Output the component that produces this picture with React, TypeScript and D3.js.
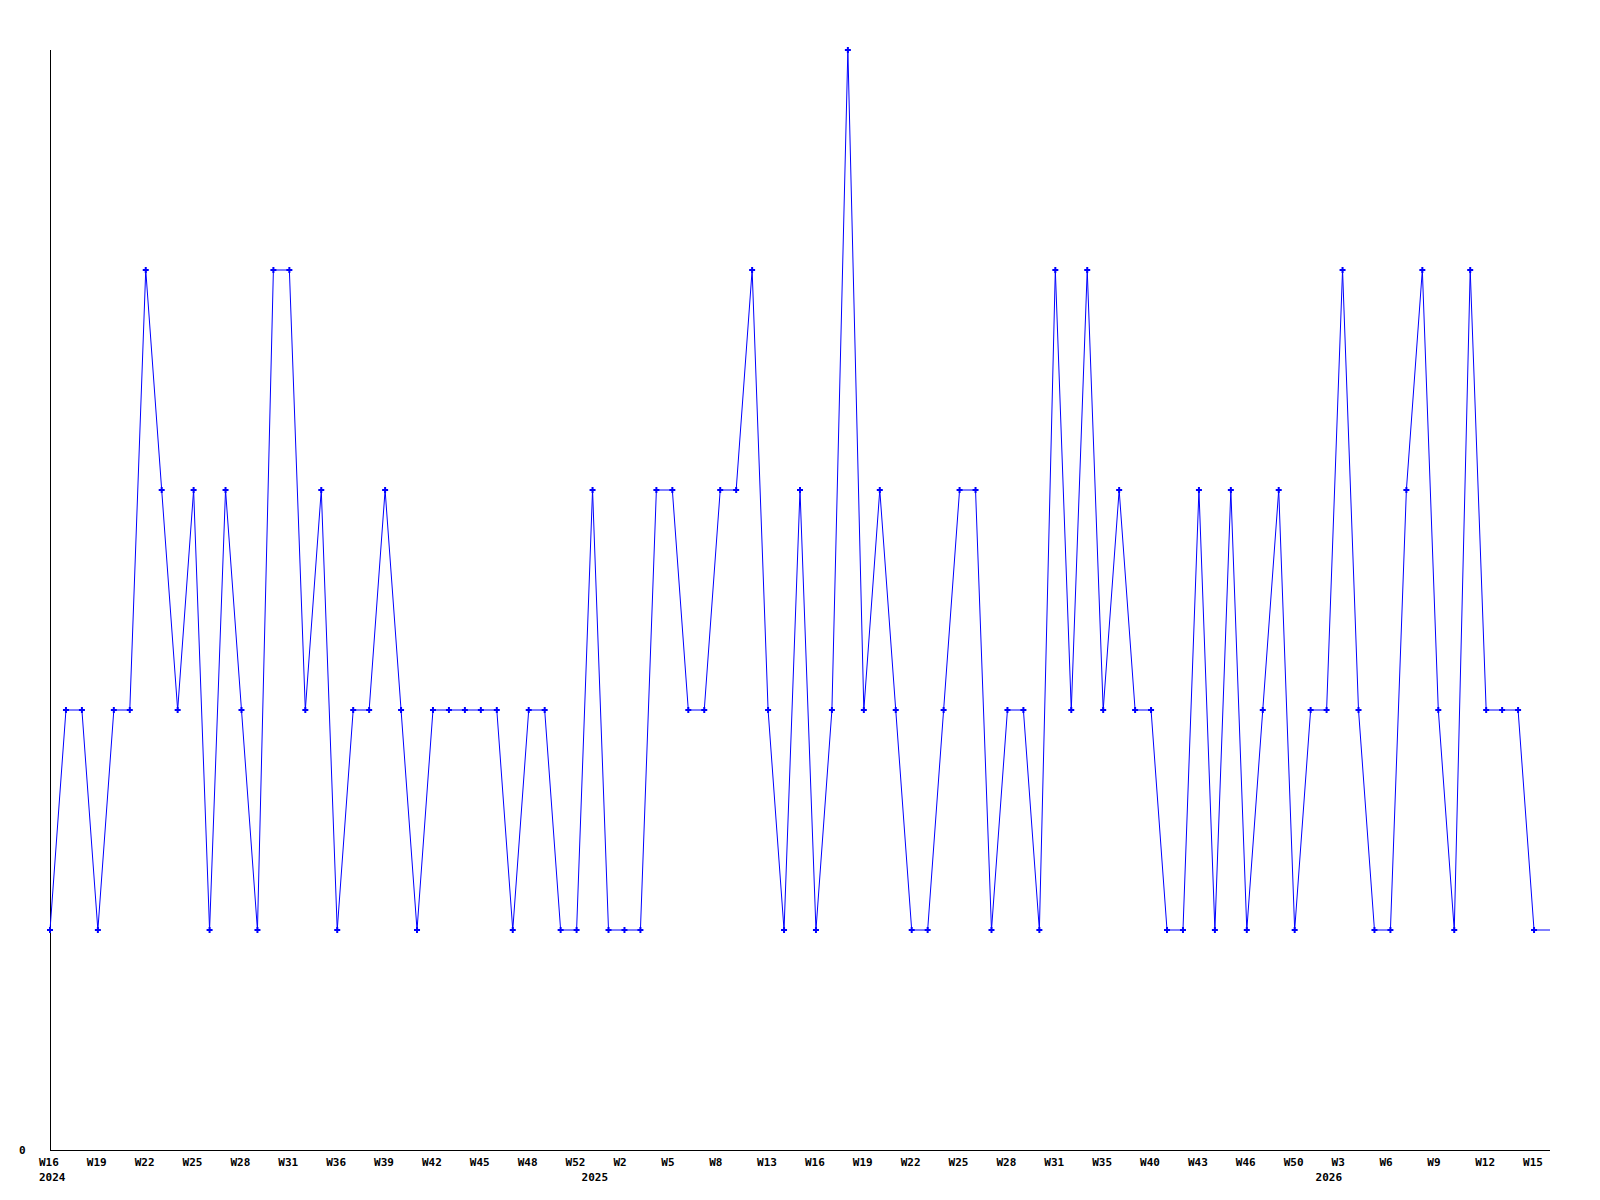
import React from 'react';
import * as d3 from 'd3';

// weekly values, one per point (last point has no marker)
const values = [
  1, 2, 2, 1, 2, 2, 4, 3, 2, 3,
  1, 3, 2, 1, 4, 4, 2, 3, 1, 2,
  2, 3, 2, 1, 2, 2, 2, 2, 2, 1,
  2, 2, 1, 1, 3, 1, 1, 1, 3, 3,
  2, 2, 3, 3, 4, 2, 1, 3, 1, 2,
  5, 2, 3, 2, 1, 1, 2, 3, 3, 1,
  2, 2, 1, 4, 2, 4, 2, 3, 2, 2,
  1, 1, 3, 1, 3, 1, 2, 3, 1, 2,
  2, 4, 2, 1, 1, 3, 4, 2, 1, 4,
  2, 2, 2, 1, 1,
];

// a tick label on every third point
const weekLabels = [
  'W16', 'W19', 'W22', 'W25', 'W28', 'W31', 'W36', 'W39', 'W42', 'W45', 'W48',
  'W52', 'W2', 'W5', 'W8', 'W13', 'W16', 'W19', 'W22', 'W25', 'W28', 'W31',
  'W35', 'W40', 'W43', 'W46', 'W50', 'W3', 'W6', 'W9', 'W12', 'W15',
];

const yearLabels = [
  { index: 0, label: '2024' },
  { index: 34, label: '2025' },
  { index: 80, label: '2026' },
];

const width = 1600;
const height = 1200;
const left = 50;
const right = 1550;
const top = 50;
const bottom = 1150;

export default function App() {
  const x = d3.scaleLinear().domain([0, values.length - 1]).range([left, right]);
  const y = d3.scaleLinear().domain([0, 5]).range([bottom, top]);

  const path = d3
    .line<number>()
    .x((_, i) => x(i))
    .y((d) => y(d))(values);

  const marker = d3.symbol().type(d3.symbolCross).size(20)();
  const font = { fontFamily: '"DejaVu Sans Mono", monospace', fontWeight: 'bold', fontSize: 11 };

  return (
    <svg
      width={width}
      height={height}
      style={{ position: 'absolute', left: 0, top: 0, background: '#fff' }}
    >
      <line x1={left + 0.5} x2={left + 0.5} y1={top} y2={bottom} stroke="#000" shapeRendering="crispEdges" />
      <line x1={left} x2={right} y1={bottom + 0.5} y2={bottom + 0.5} stroke="#000" shapeRendering="crispEdges" />

      <path d={path ?? ''} fill="none" stroke="#0000ff" strokeWidth={1} />
      {values.slice(0, values.length - 1).map((d, i) => (
        <path key={i} d={marker ?? ''} transform={`translate(${x(i)},${y(d)})`} fill="#0000ff" />
      ))}

      <text x={19} y={bottom + 4} {...font} fill="#000">0</text>

      {weekLabels.map((w, k) => (
        <text key={k} x={x(k * 3) - 11} y={1166} {...font} fill="#000">{w}</text>
      ))}
      {yearLabels.map((yl) => (
        <text key={yl.label} x={x(yl.index) - 11} y={1181} {...font} fill="#000">{yl.label}</text>
      ))}
    </svg>
  );
}
